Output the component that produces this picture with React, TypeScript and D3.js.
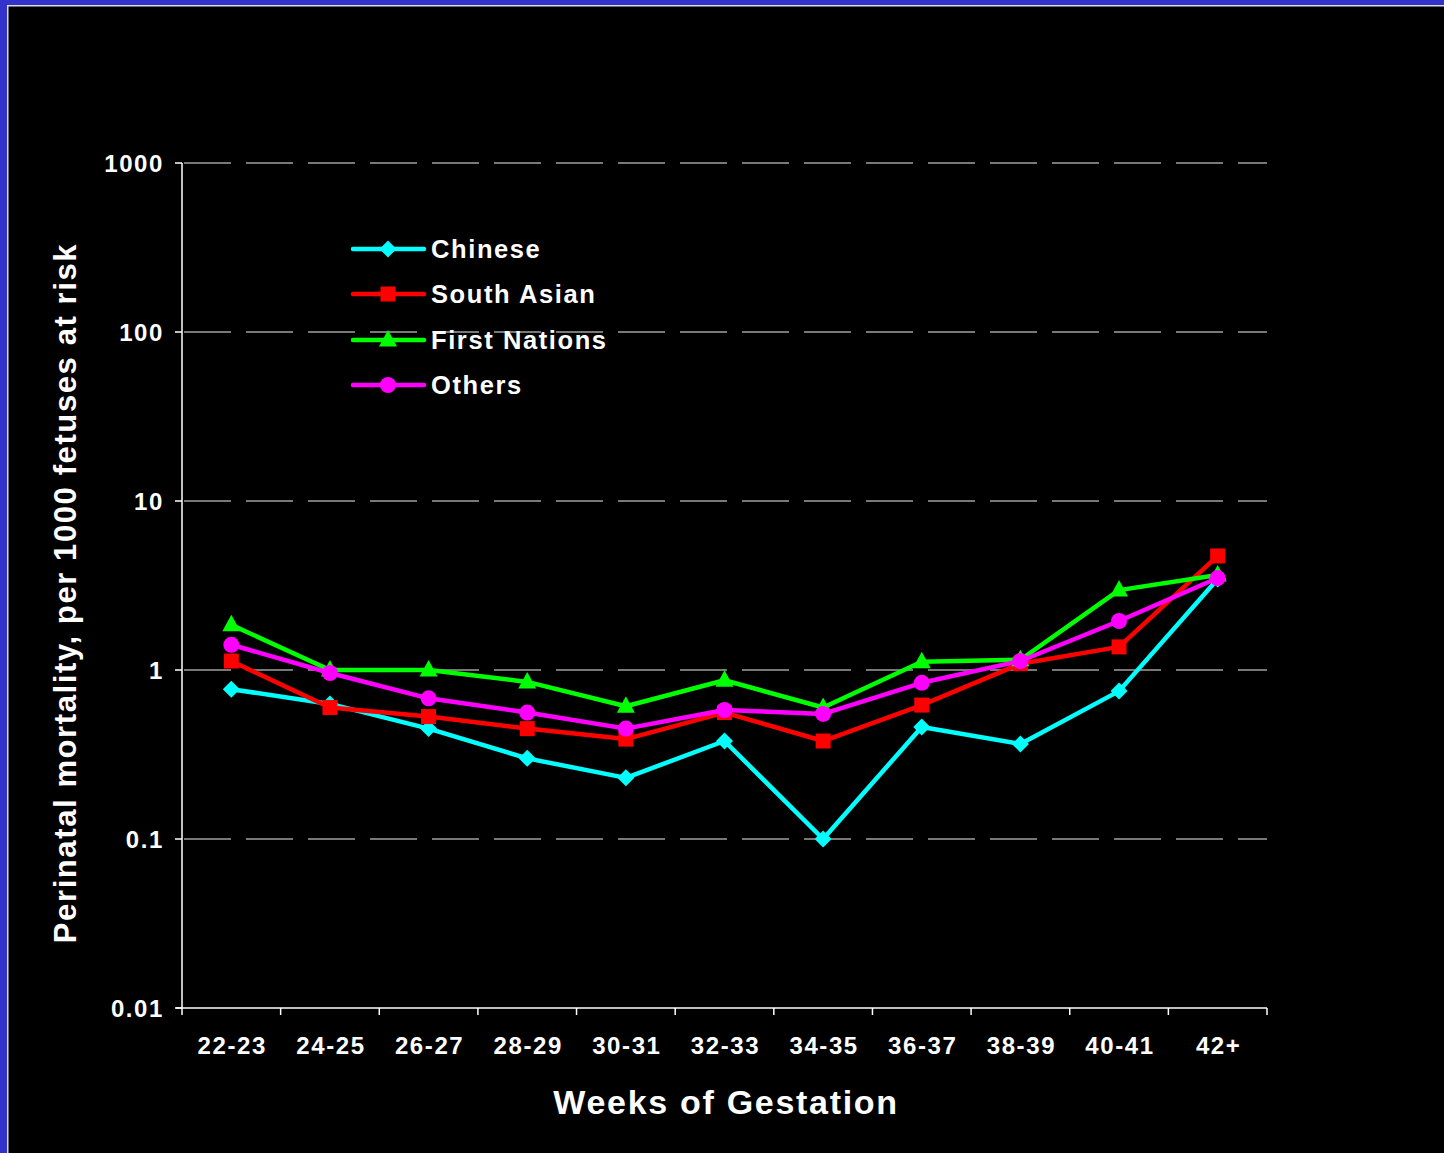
import React from "react";
import * as d3 from "d3";

const categories = ["22-23", "24-25", "26-27", "28-29", "30-31", "32-33", "34-35", "36-37", "38-39", "40-41", "42+"];
const chinese = [0.77, 0.63, 0.45, 0.3, 0.23, 0.38, 0.1, 0.46, 0.365, 0.75, 3.45];
const southAsian = [1.13, 0.6, 0.53, 0.45, 0.39, 0.56, 0.38, 0.62, 1.09, 1.37, 4.73];
const firstNations = [1.85, 1.0, 1.0, 0.85, 0.61, 0.87, 0.6, 1.12, 1.15, 2.97, 3.65];
const others = [1.41, 0.96, 0.68, 0.56, 0.45, 0.58, 0.55, 0.84, 1.13, 1.95, 3.5];
const yTicks = [0.01, 0.1, 1, 10, 100, 1000];
const yTickLabels = ["0.01", "0.1", "1", "10", "100", "1000"];

const series = [
  { name: "Chinese", values: chinese, color: "#00ffff", marker: "diamond" },
  { name: "South Asian", values: southAsian, color: "#ff0000", marker: "square" },
  { name: "First Nations", values: firstNations, color: "#00ff00", marker: "triangle" },
  { name: "Others", values: others, color: "#ff00ff", marker: "circle" },
];

const W = 1444;
const H = 1153;
const left = 182, right = 1267, top = 163, bottom = 1008;
const FONT = "'Liberation Sans', Arial, sans-serif";

function Marker({ type, x, y, color }: { type: string; x: number; y: number; color: string }) {
  if (type === "diamond") {
    return <path d={`M${x},${y - 8.5}L${x + 8.5},${y}L${x},${y + 8.5}L${x - 8.5},${y}Z`} fill={color} />;
  }
  if (type === "square") {
    return <rect x={x - 7.5} y={y - 7.5} width={15} height={15} fill={color} />;
  }
  if (type === "triangle") {
    return <path d={`M${x},${y - 10}L${x + 9},${y + 6.5}L${x - 9},${y + 6.5}Z`} fill={color} />;
  }
  return <circle cx={x} cy={y} r={8} fill={color} />;
}

export default function App() {
  const x = d3.scaleBand<string>().domain(categories).range([left, right]).padding(0);
  const y = d3.scaleLog().domain([0.01, 1000]).range([bottom, top]);
  const cx = (c: string) => (x(c) || 0) + x.bandwidth() / 2;
  const line = d3
    .line<number>()
    .x((_, i) => cx(categories[i]))
    .y((v) => y(v));

  const boundaries = categories.map((c) => x(c) || 0).concat([right]);

  return (
    <div style={{ position: "absolute", left: 0, top: 0, width: W, height: H }}>
      <svg width={W} height={H} style={{ display: "block" }} fontFamily={FONT}>
        <rect x={0} y={0} width={W} height={H} fill="#3333cc" />
        <rect x={7} y={5} width={W - 7} height={H - 5} fill="#dddddd" />
        <rect x={8.5} y={6.5} width={W - 8.5} height={H - 6.5} fill="#000000" />

        {/* gridlines */}
        {yTicks.slice(1).map((t) => (
          <line
            key={"g" + t}
            x1={left}
            x2={right}
            y1={y(t)}
            y2={y(t)}
            stroke="#a0a0a0"
            strokeWidth={1.3}
            strokeDasharray="47 15"
            strokeDashoffset={-2}
          />
        ))}

        {/* axes */}
        <line x1={left} x2={left} y1={top} y2={bottom} stroke="#ffffff" strokeWidth={1.5} />
        <line x1={left - 6} x2={right} y1={bottom} y2={bottom} stroke="#ffffff" strokeWidth={1.5} />
        {yTicks.map((t, i) => (
          <g key={"yt" + t}>
            <line x1={left - 7} x2={left} y1={y(t)} y2={y(t)} stroke="#ffffff" strokeWidth={1.5} />
            <text
              x={164}
              y={y(t)}
              dy="0.36em"
              textAnchor="end"
              fill="#ffffff"
              fontSize={24}
              fontWeight="bold"
              letterSpacing={1.6}
            >
              {yTickLabels[i]}
            </text>
          </g>
        ))}
        {boundaries.map((b, i) => (
          <line key={"xt" + i} x1={b} x2={b} y1={bottom} y2={bottom + 7} stroke="#ffffff" strokeWidth={1.5} />
        ))}
        {categories.map((c) => (
          <text
            key={"xl" + c}
            x={cx(c) + 1}
            y={1054}
            textAnchor="middle"
            fill="#ffffff"
            fontSize={24}
            fontWeight="bold"
            letterSpacing={1.6}
          >
            {c}
          </text>
        ))}

        <text
          x={726}
          y={1114}
          textAnchor="middle"
          fill="#ffffff"
          fontSize={34}
          fontWeight="bold"
          letterSpacing={1.7}
        >
          Weeks of Gestation
        </text>
        <text
          transform={`translate(76,593) rotate(-90)`}
          textAnchor="middle"
          fill="#ffffff"
          fontSize={31}
          fontWeight="bold"
          letterSpacing={1.6}
        >
          Perinatal mortality, per 1000 fetuses at risk
        </text>

        {/* series */}
        {series.map((s) => (
          <g key={s.name}>
            <path d={line(s.values) || ""} fill="none" stroke={s.color} strokeWidth={4.5} strokeLinejoin="round" />
            {s.values.map((v, i) => (
              <Marker key={i} type={s.marker} x={cx(categories[i])} y={y(v)} color={s.color} />
            ))}
          </g>
        ))}

        {/* legend */}
        {series.map((s, i) => {
          const ly = [249, 294, 340, 385][i];
          return (
            <g key={"lg" + s.name}>
              <line x1={353} x2={424} y1={ly} y2={ly} stroke={s.color} strokeWidth={4.5} strokeLinecap="round" />
              <Marker type={s.marker} x={388} y={ly} color={s.color} />
              <text
                x={431}
                y={ly}
                dy="0.36em"
                fill="#ffffff"
                fontSize={25.5}
                fontWeight="bold"
                letterSpacing={1.6}
              >
                {s.name}
              </text>
            </g>
          );
        })}
      </svg>
    </div>
  );
}
